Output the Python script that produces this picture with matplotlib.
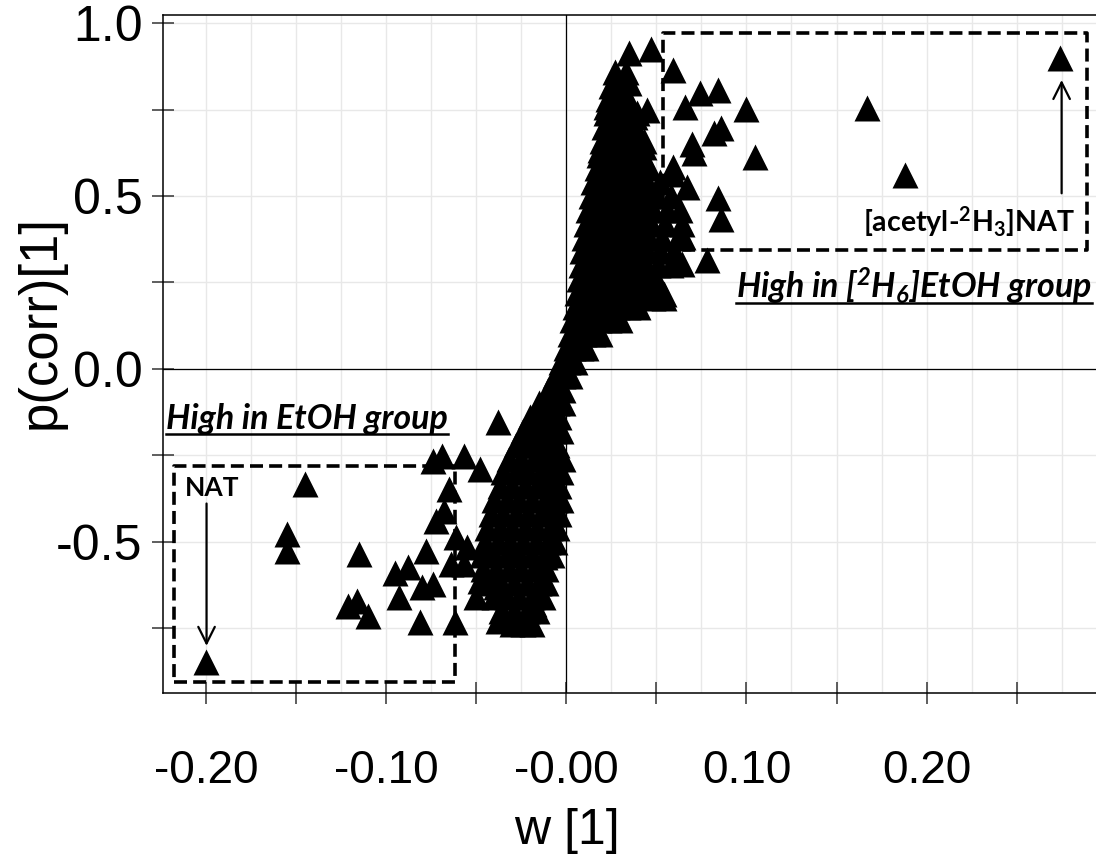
import numpy as np
import matplotlib.pyplot as plt
from matplotlib.ticker import FixedLocator, MultipleLocator
from matplotlib.lines import Line2D

plt.rc('font', family=['Liberation Sans', 'DejaVu Sans'], size=36)

# dense S-shaped band: one row of w[1] values for each p(corr)[1] level
band_pcorr = [-0.74, -0.70, -0.66, -0.62, -0.58, -0.54, -0.50, -0.46, -0.42, -0.38,
              -0.34, -0.30, -0.26, -0.22, -0.18, -0.14, -0.10, -0.06, -0.02, 0.02,
              0.06, 0.10, 0.14, 0.18, 0.22, 0.26, 0.30, 0.34, 0.38, 0.42,
              0.46, 0.50, 0.54, 0.58, 0.62, 0.66, 0.70, 0.74, 0.78, 0.82, 0.86]
band_w = [
    [-0.030, -0.024, -0.019],
    [-0.036, -0.029, -0.022, -0.016],
    [-0.040, -0.033, -0.026, -0.019, -0.013],
    [-0.043, -0.036, -0.029, -0.022, -0.015, -0.011],
    [-0.046, -0.039, -0.032, -0.025, -0.018, -0.011],
    [-0.047, -0.040, -0.033, -0.026, -0.019, -0.012, -0.008],
    [-0.045, -0.038, -0.031, -0.024, -0.017, -0.010, -0.006],
    [-0.044, -0.037, -0.030, -0.023, -0.016, -0.009, -0.005],
    [-0.042, -0.035, -0.028, -0.021, -0.014, -0.008, -0.004],
    [-0.040, -0.033, -0.026, -0.019, -0.012, -0.006, -0.003],
    [-0.037, -0.030, -0.023, -0.016, -0.010, -0.004],
    [-0.035, -0.028, -0.021, -0.014, -0.008, -0.003],
    [-0.032, -0.025, -0.018, -0.012, -0.006, -0.002],
    [-0.028, -0.022, -0.016, -0.010, -0.005],
    [-0.024, -0.018, -0.012, -0.007, -0.003],
    [-0.020, -0.014, -0.009, -0.004],
    [-0.015, -0.010, -0.005, -0.002],
    [-0.010, -0.006, -0.002],
    [-0.006, -0.002, 0.002],
    [-0.003, 0.001, 0.005],
    [0.000, 0.004, 0.008, 0.011],
    [0.002, 0.006, 0.010, 0.015, 0.019],
    [0.003, 0.008, 0.013, 0.018, 0.024, 0.030],
    [0.005, 0.010, 0.016, 0.022, 0.028, 0.034, 0.040],
    [0.006, 0.012, 0.018, 0.024, 0.030, 0.036, 0.042],
    [0.007, 0.013, 0.019, 0.025, 0.031, 0.037, 0.043, 0.050],
    [0.008, 0.014, 0.020, 0.026, 0.032, 0.038, 0.044, 0.051, 0.058],
    [0.009, 0.015, 0.021, 0.027, 0.033, 0.039, 0.045, 0.052, 0.060],
    [0.010, 0.016, 0.022, 0.028, 0.034, 0.040, 0.046, 0.053, 0.062],
    [0.011, 0.017, 0.023, 0.029, 0.035, 0.041, 0.047, 0.055, 0.064],
    [0.012, 0.018, 0.024, 0.030, 0.036, 0.042, 0.048, 0.056, 0.063],
    [0.014, 0.020, 0.026, 0.032, 0.038, 0.044, 0.050, 0.058],
    [0.015, 0.021, 0.027, 0.033, 0.039, 0.045, 0.052],
    [0.017, 0.022, 0.028, 0.034, 0.040, 0.046],
    [0.018, 0.024, 0.030, 0.036, 0.042],
    [0.020, 0.025, 0.031, 0.037, 0.043],
    [0.021, 0.026, 0.032, 0.038],
    [0.022, 0.027, 0.033, 0.039],
    [0.023, 0.028, 0.034],
    [0.025, 0.030],
    [0.027, 0.033],
]

# points lying away from the band
hi_w = [0.274, 0.188, 0.167, 0.100, 0.105, 0.084, 0.074, 0.066, 0.086, 0.082,
        0.070, 0.071, 0.084, 0.086, 0.078, 0.064, 0.054, 0.047, 0.065, 0.067,
        0.059, 0.059, 0.047, 0.035, 0.035, 0.045, 0.028, 0.022, 0.038, 0.038,
        0.043, 0.059, 0.019, 0.054, 0.048]
hi_pcorr = [0.899, 0.560, 0.754, 0.751, 0.613, 0.807, 0.797, 0.758, 0.696, 0.682,
            0.652, 0.624, 0.493, 0.435, 0.314, 0.304, 0.217, 0.236, 0.381, 0.526,
            0.565, 0.865, 0.925, 0.913, 0.828, 0.749, 0.820, 0.758, 0.729, 0.638,
            0.642, 0.584, 0.633, 0.206, 0.206]
lo_w = [-0.200, -0.145, -0.155, -0.155, -0.115, -0.121, -0.116, -0.110, -0.095, -0.093,
        -0.088, -0.081, -0.062, -0.080, -0.074, -0.078, -0.072, -0.074, -0.069, -0.057,
        -0.065, -0.048, -0.038, -0.064, -0.057, -0.050, -0.048, -0.038, -0.022, -0.035,
        -0.018, -0.012, -0.039, -0.061, -0.055, -0.068]
lo_pcorr = [-0.850, -0.333, -0.478, -0.527, -0.536, -0.686, -0.672, -0.715, -0.590, -0.662,
            -0.575, -0.734, -0.734, -0.633, -0.623, -0.527, -0.440, -0.266, -0.251, -0.251,
            -0.348, -0.290, -0.155, -0.565, -0.565, -0.662, -0.614, -0.730, -0.734, -0.710,
            -0.681, -0.546, -0.633, -0.488, -0.517, -0.411]

x_ticks = [-0.20, -0.15, -0.10, -0.05, 0.0, 0.05, 0.10, 0.15, 0.20, 0.25]
x_ticklabels = ['-0.20', '', '-0.10', '', '-0.00', '', '0.10', '', '0.20', '']
y_ticks = [-0.75, -0.5, -0.25, 0.0, 0.25, 0.5, 0.75, 1.0]
y_ticklabels = ['', '-0.5', '', '0.0', '', '0.5', '', '1.0']

w = np.concatenate([np.array(r) for r in band_w] + [hi_w, lo_w])
pcorr = np.concatenate([np.full(len(r), p) for p, r in zip(band_pcorr, band_w)] + [hi_pcorr, lo_pcorr])

W, H = 1096, 867
fig = plt.figure(figsize=(W / 100, H / 100), dpi=100)
ax = fig.add_axes([163.3 / W, 1 - 692.5 / H, (1100 - 163.3) / W, (692.5 - 14.7) / H])
ax.set_xlim(-0.2236, 0.2962)
ax.set_ylim(-0.937, 1.025)

ax.scatter(w, pcorr, marker='^', s=350, c='black', linewidths=0, zorder=3)

ax.axhline(0, color='black', lw=0.9, zorder=2)
ax.axvline(0, color='black', lw=0.9, zorder=2)

ax.xaxis.set_major_locator(FixedLocator(x_ticks))
ax.set_xticklabels(x_ticklabels, fontsize=33)
ax.xaxis.set_minor_locator(MultipleLocator(0.025))
ax.yaxis.set_major_locator(FixedLocator(y_ticks))
ax.set_yticklabels(y_ticklabels, fontsize=36)
ax.tick_params(which='major', direction='inout', length=16, width=1.1, color='#333333')
ax.tick_params(axis='x', which='major', pad=33)
ax.tick_params(axis='y', which='major', pad=7)
ax.tick_params(which='minor', length=0)
ax.grid(which='both', axis='x', color='#e8e8e8', lw=1)
ax.grid(which='major', axis='y', color='#e8e8e8', lw=1)
ax.set_axisbelow(True)
for s in ['left', 'bottom', 'top']:
    ax.spines[s].set_linewidth(1.1)
ax.spines['right'].set_visible(False)

fig.text(41 / W, 1 - 322 / H, 'p(corr)[1]', rotation=90, ha='center', va='center', fontsize=38)
fig.text(567 / W, 1 - 831 / H, 'w [1]', ha='center', va='center', fontsize=36)

# dashed boxes
box_kw = dict(color='black', lw=2.6, ls=(0, (3.6, 1.7)), zorder=4)
ax.plot([-0.2177, -0.0618, -0.0618, -0.2177, -0.2177], [-0.908, -0.908, -0.282, -0.282, -0.908], **box_kw)
ax.plot([0.0538, 0.2888, 0.2888, 0.0538, 0.0538], [0.345, 0.345, 0.971, 0.971, 0.345], **box_kw)

ann = dict(family=['Lato', 'DejaVu Sans'], weight='bold', color='black', zorder=5)
ax.text(-0.2116, -0.367, 'NAT', fontsize=19, ha='left', va='baseline', **ann)
ax.text(0.2823, 0.396, r'[acetyl-$\mathregular{^2}$H$\mathregular{_3}$]NAT', fontsize=20.5,
        ha='right', va='baseline', **ann)
t1 = ax.text(-0.2221, -0.173, 'High in EtOH group', fontsize=24.5, style='italic',
             ha='left', va='baseline', **ann)
t2 = ax.text(0.2916, 0.204, r'High in [$\mathregular{^2}$H$\mathregular{_6}$]EtOH group', fontsize=24.5,
             style='italic', ha='right', va='baseline', **ann)

arrow_kw = dict(arrowstyle='->,head_length=0.7,head_width=0.35', color='black', lw=1.6,
                mutation_scale=17, shrinkA=0, shrinkB=0)
ax.annotate('', xy=(-0.1996, -0.802), xytext=(-0.1996, -0.390), arrowprops=arrow_kw, zorder=5)
ax.annotate('', xy=(0.2749, 0.836), xytext=(0.2749, 0.508), arrowprops=arrow_kw, zorder=5)

# underline the two group labels
fig.canvas.draw()
r = fig.canvas.get_renderer()
inv = fig.transFigure.inverted()
for t in (t1, t2):
    bb = t.get_window_extent(r)
    base = ax.transData.transform(t.get_position())[1] - 5
    (x0, y0), (x1, _) = inv.transform([(bb.x0, base), (bb.x1, base)])
    fig.add_artist(Line2D([x0, x1], [y0, y0], color='black', lw=1.8, transform=fig.transFigure))

fig.savefig('out.png', dpi=100)
